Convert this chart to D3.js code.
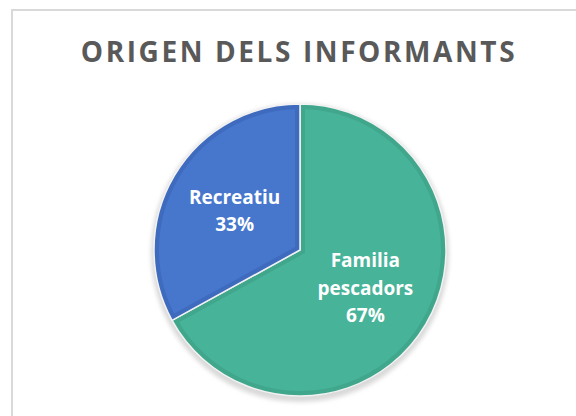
<!DOCTYPE html>
<html>
<head>
<meta charset="utf-8">
<script src="https://cdn.jsdelivr.net/npm/d3@7"></script>
<style>
  html, body { margin: 0; padding: 0; background: #fff; }
  svg { display: block; font-family: "Open Sans", sans-serif; }
</style>
</head>
<body>
<svg id="chart"></svg>
<script>
var categories = ["Familia pescadors", "Recreatiu"];
var labelLines = [["Familia", "pescadors"], ["Recreatiu"]];
var values = [67, 33];
var fills = ["#47b399", "#4677cd"];
var edges = ["#40a68c", "#3f6bbf"];

var width = 576;
var height = 416;
var cx = 300, cy = 250, r = 146;

var svg = d3.select("#chart").attr("width", width).attr("height", height);

// chart area border (runs off the right and bottom of the picture)
svg.append("rect")
    .attr("x", 12).attr("y", 10)
    .attr("width", 600).attr("height", 450)
    .attr("fill", "#fff")
    .attr("stroke", "#d9d9d9")
    .attr("stroke-width", 2);

svg.append("text")
    .attr("x", 299).attr("y", 62)
    .attr("text-anchor", "middle")
    .attr("font-size", 28)
    .attr("font-weight", 700)
    .attr("letter-spacing", 2.6)
    .attr("fill", "#595959")
    .text("ORIGEN DELS INFORMANTS");

var defs = svg.append("defs");
var blur = defs.append("filter").attr("id", "shadow")
    .attr("x", "-20%").attr("y", "-20%").attr("width", "140%").attr("height", "140%");
blur.append("feGaussianBlur").attr("stdDeviation", 2);

var g = svg.append("g").attr("transform", "translate(" + cx + "," + cy + ")");

// soft shadow under the pie
g.append("circle")
    .attr("cx", 0).attr("cy", 3)
    .attr("r", r + 3)
    .attr("fill", "#d9d9d9")
    .attr("filter", "url(#shadow)");

var pie = d3.pie().sort(null).value(function(d) { return d; });
var arcs = pie(values);
var arc = d3.arc().innerRadius(0).outerRadius(r);
var labelArc = d3.arc().innerRadius(r * 0.52).outerRadius(r * 0.52);

// clip paths live in the same (translated) user space as the slices
arcs.forEach(function(d, i) {
    defs.append("clipPath").attr("id", "clip" + i)
        .append("path").attr("d", arc(d));
});

var slices = g.selectAll("g.slice").data(arcs).enter().append("g").attr("class", "slice");

// fill with a darker band along the inside edge
slices.append("path")
    .attr("d", arc)
    .attr("fill", function(d, i) { return fills[i]; })
    .attr("stroke", function(d, i) { return edges[i]; })
    .attr("stroke-width", 10)
    .attr("stroke-linejoin", "miter")
    .attr("clip-path", function(d, i) { return "url(#clip" + i + ")"; });

// thin light separator
slices.append("path")
    .attr("d", arc)
    .attr("fill", "none")
    .attr("stroke", "#f2f2f2")
    .attr("stroke-width", 1.5);

var labels = slices.append("text")
    .attr("text-anchor", "middle")
    .attr("fill", "#fff")
    .attr("font-size", 19)
    .attr("font-weight", 700)
    .attr("transform", function(d) {
        var c = labelArc.centroid(d);
        return "translate(" + c[0] + "," + c[1] + ")";
    });

labels.each(function(d, i) {
    var lines = labelLines[i].concat([Math.round(d.data) + "%"]);
    var lh = 27.5;
    var start = -(lines.length - 1) * lh / 2 + 6;
    var t = d3.select(this);
    lines.forEach(function(s, k) {
        t.append("tspan").attr("x", 0).attr("y", start + k * lh).text(s);
    });
});
</script>
</body>
</html>
